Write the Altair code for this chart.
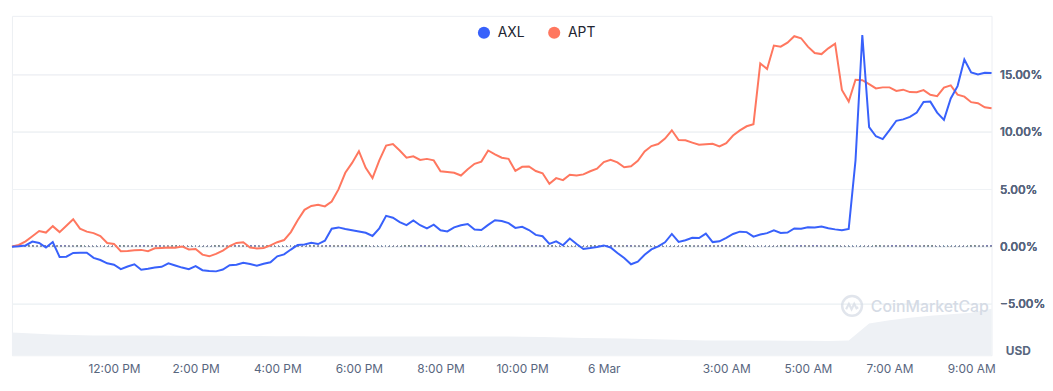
import altair as alt
import pandas as pd

# ---- data (10-minute samples, % change since 09:30 on 5 Mar) ----
start_time = "2025-03-05 09:30"
coins = ["AXL", "APT"]
coin_colors = ["#3861FB", "#FF775F"]

axl_pct = [
    -0.03, 0.02, 0.09, 0.43, 0.30, -0.10, 0.39, -0.91, -0.89, -0.56,
    -0.54, -0.54, -0.99, -1.18, -1.47, -1.59, -1.98, -1.75, -1.55, -2.03,
    -1.95, -1.84, -1.77, -1.47, -1.66, -1.84, -1.98, -1.72, -2.07, -2.13,
    -2.17, -2.01, -1.64, -1.59, -1.43, -1.53, -1.67, -1.50, -1.38, -0.86,
    -0.69, -0.27, 0.13, 0.17, 0.33, 0.21, 0.50, 1.55, 1.66, 1.52,
    1.41, 1.31, 1.19, 0.91, 1.58, 2.67, 2.50, 2.12, 1.86, 2.26,
    1.85, 1.58, 1.90, 1.41, 1.31, 1.66, 1.85, 1.96, 1.48, 1.44,
    1.88, 2.28, 2.21, 2.03, 1.62, 1.71, 1.43, 1.01, 0.89, 0.22,
    0.45, 0.10, 0.69, 0.21, -0.22, -0.14, -0.04, 0.09, -0.09, -0.57,
    -1.00, -1.55, -1.33, -0.73, -0.26, 0.00, 0.36, 1.09, 0.39, 0.54,
    0.76, 0.73, 1.12, 0.38, 0.45, 0.75, 1.09, 1.29, 1.25, 0.86,
    1.04, 1.16, 1.41, 1.18, 1.21, 1.57, 1.54, 1.67, 1.66, 1.74,
    1.59, 1.49, 1.41, 1.53, 7.50, 18.42, 10.40, 9.60, 9.35, 10.13,
    10.95, 11.07, 11.29, 11.67, 12.58, 12.62, 11.66, 11.03, 12.89, 13.97,
    16.29, 15.17, 14.98, 15.14, 15.11,
]

apt_pct = [
    0.00, 0.13, 0.45, 0.89, 1.35, 1.21, 1.77, 1.25, 1.81, 2.37,
    1.55, 1.29, 1.16, 0.91, 0.30, 0.22, -0.41, -0.39, -0.34, -0.30,
    -0.41, -0.16, -0.13, -0.09, -0.11, 0.00, -0.26, -0.22, -0.71, -0.86,
    -0.65, -0.36, 0.04, 0.31, 0.36, -0.09, -0.17, -0.13, 0.09, 0.37,
    0.56, 1.25, 2.28, 3.19, 3.53, 3.64, 3.49, 3.92, 4.97, 6.42,
    7.28, 8.30, 6.85, 5.95, 7.50, 8.79, 8.92, 8.36, 7.73, 7.85,
    7.54, 7.63, 7.50, 6.55, 6.49, 6.42, 6.18, 6.72, 7.20, 7.39,
    8.36, 8.02, 7.73, 7.63, 6.58, 6.94, 6.97, 6.57, 6.38, 5.47,
    5.95, 5.78, 6.25, 6.18, 6.28, 6.55, 6.77, 7.35, 7.55, 7.33,
    6.90, 6.98, 7.46, 8.28, 8.75, 8.92, 9.40, 10.12, 9.27, 9.25,
    9.05, 8.86, 8.90, 8.94, 8.71, 9.00, 9.66, 10.11, 10.47, 10.65,
    15.95, 15.46, 17.50, 17.41, 17.76, 18.32, 18.14, 17.41, 16.85, 16.76,
    17.26, 17.67, 13.64, 12.63, 14.53, 14.48, 14.14, 13.77, 13.86, 13.86,
    13.55, 13.66, 13.45, 13.43, 13.62, 13.21, 13.10, 13.84, 14.03, 13.23,
    13.05, 12.57, 12.48, 12.12, 12.04,
]

# trading volume (USD, millions), 30-minute samples
volume_musd = [
    46, 44, 42, 41, 40, 40, 40, 40, 39.6, 39.6,
    39.4, 39, 39, 38.6, 38.4, 38, 38, 38, 38, 38,
    38, 38, 38, 38, 38, 37.6, 37, 36, 35, 34.6,
    34, 33, 32, 31, 30, 30, 30, 29.6, 29.4, 29.2,
    29, 29.6, 64, 71, 76, 80, 83, 86, 94,
]

x_tick_times = [
    "2025-03-05 12:00", "2025-03-05 14:00", "2025-03-05 16:00",
    "2025-03-05 18:00", "2025-03-05 20:00", "2025-03-05 22:00",
    "2025-03-06 00:00", "2025-03-06 03:00", "2025-03-06 05:00",
    "2025-03-06 07:00", "2025-03-06 09:00",
]
y_tick_values = [-5, 0, 5, 10, 15]
y_domain = [-9.48, 20.09]
x_domain = ["2025-03-05 09:30", "2025-03-06 09:30"]

# ---- tables ----
times = pd.date_range(start_time, periods=len(apt_pct), freq="10min")
n = len(times)
lines_df = pd.DataFrame({
    "time": [t.strftime("%Y-%m-%dT%H:%M:%S") for t in times] * 2,
    "pct": apt_pct + axl_pct,
    "coin": ["APT"] * n + ["AXL"] * n,
})
vol_times = pd.date_range(start_time, periods=len(volume_musd), freq="30min")
vol_df = pd.DataFrame({
    "time": [t.strftime("%Y-%m-%dT%H:%M:%S") for t in vol_times],
    "volume": volume_musd,
})


def dt(s):
    t = pd.Timestamp(s)
    return alt.DateTime(year=t.year, month=t.month, date=t.day,
                        hours=t.hour, minutes=t.minute)


W, H = 990, 343
FONT = "Inter"
GREY = "#58667e"
WM = "#d5dbe5"

x_scale = alt.Scale(domain=[dt(x_domain[0]), dt(x_domain[1])])

x_axis = alt.Axis(
    values=[dt(s) for s in x_tick_times],
    labelExpr="hours(datum.value) == 0 ? timeFormat(datum.value, '%-d %b') : timeFormat(datum.value, '%-I:%M %p')",
    title=None, grid=False, ticks=False, domain=False,
    labelColor=GREY, labelFontSize=12, labelFont=FONT, labelPadding=8,
    labelFlush=False, labelOverlap=False,
)

volume = alt.Chart(vol_df).mark_area(color="#eef1f5").encode(
    x=alt.X("time:T", scale=x_scale, axis=x_axis),
    y=alt.Y("volume:Q", scale=alt.Scale(domain=[0, 686]), axis=None),
)

y_axis = alt.Axis(
    orient="right", values=y_tick_values, title=None,
    labelExpr="format(datum.value, '.2f') + '%'",
    labelColor=GREY, labelFontSize=12, labelFont=FONT, labelFontWeight=500,
    labelPadding=8, ticks=False, domain=False,
    grid=True, gridColor="#eff2f5", gridWidth=1,
)

lines_base = alt.Chart(lines_df)

zero_rule = lines_base.mark_rule(color="#8a94a6", strokeDash=[1, 3], strokeWidth=1).encode(
    y=alt.datum(0, scale=alt.Scale(domain=y_domain), axis=y_axis),
)

# line colours (same mapping, listed in drawing order)
lines = lines_base.mark_line(strokeWidth=2).encode(
    x=alt.X("time:T", scale=x_scale, axis=x_axis),
    y=alt.Y("pct:Q", scale=alt.Scale(domain=y_domain), axis=y_axis),
    color=alt.Color("coin:N",
                    scale=alt.Scale(domain=coins[::-1], range=coin_colors[::-1]),
                    legend=None),
)

# invisible points that only carry the (filled-circle) legend
legend_points = lines_base.mark_circle(size=0, opacity=1).encode(
    x=alt.X("time:T", scale=x_scale, axis=x_axis),
    y=alt.Y("pct:Q", scale=alt.Scale(domain=y_domain), axis=y_axis),
    fill=alt.Fill(
        "coin:N",
        scale=alt.Scale(domain=coins, range=coin_colors),
        legend=alt.Legend(
            orient="none", legendX=470, legendY=10, direction="horizontal",
            title=None, symbolType="circle", symbolSize=150,
            symbolStrokeWidth=0,
            labelFont=FONT, labelFontSize=14, labelColor="#222531",
            labelOffset=7, columnPadding=22,
        ),
    ),
)

watermark_text = alt.Chart(pd.DataFrame({"t": ["CoinMarketCap"]})).mark_text(
    font=FONT, fontSize=16, fontWeight=500, color=WM, align="left", baseline="middle"
).encode(text="t:N", x=alt.value(868), y=alt.value(294))

watermark_logo = alt.Chart(pd.DataFrame({"t": [1]})).mark_point(
    shape="circle", size=400, strokeWidth=2.5, color=WM, filled=False
).encode(x=alt.value(849), y=alt.value(293))

watermark_wave = alt.Chart(pd.DataFrame({"t": [1]})).mark_point(
    shape="M-0.6,0.25 L-0.32,-0.3 L-0.05,0.25 L0.22,-0.3 L0.45,0.15 L0.62,0.05",
    size=400, strokeWidth=2.2, color=WM, filled=False
).encode(x=alt.value(849), y=alt.value(294))

usd_label = alt.Chart(pd.DataFrame({"t": ["USD"]})).mark_text(
    font=FONT, fontSize=12, fontWeight=700, color=GREY, align="center", baseline="middle"
).encode(text="t:N", x=alt.value(1017), y=alt.value(339))

chart = alt.layer(
    volume, zero_rule, lines, legend_points,
    watermark_logo, watermark_wave, watermark_text, usd_label
).resolve_scale(y="independent").properties(
    width=W, height=H,
    padding={"left": 0, "top": 6, "right": 0, "bottom": 0},
).configure_view(
    stroke="#eceff3", strokeWidth=1
).configure_text(font=FONT)

chart.save("out.html", embed_options={"renderer": "svg", "actions": False})
